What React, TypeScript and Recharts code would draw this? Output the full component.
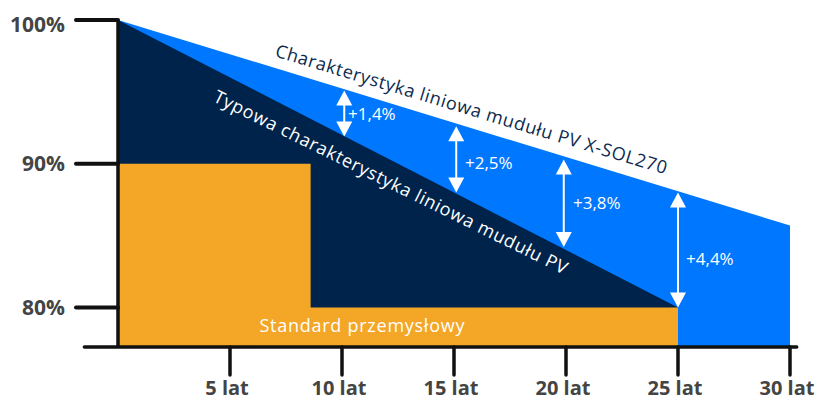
import React from 'react';
import { ComposedChart, Area, XAxis, YAxis, ReferenceLine, ReferenceDot } from 'recharts';

// ---- data ----
const xsolYears = [0, 30];
const xsolValues = [100, 85.7];
const typicalYears = [0, 25];
const typicalValues = [100, 80];
const standardYears = [0, 8.6, 25];
const standardValues = [90, 80, 80];

const gainYears = [10.1, 15.1, 19.9, 25];
const gainTop = [95.1, 92.6, 90.3, 88.0];
const gainBottom = [91.9, 88.0, 84.2, 80.0];
const gainLabels = ['+1,4%', '+2,5%', '+3,8%', '+4,4%'];
const gainLabelYears = [10.27, 15.49, 20.31, 25.36];
const gainLabelLevels = [93.5, 90.1, 87.3, 83.4];

const xTicks = [5, 10, 15, 20, 25, 30];
const xTickLabels = ['5 lat', '10 lat', '15 lat', '20 lat', '25 lat', '30 lat'];
const yTicks = [80, 90, 100];
const yTickLabels = ['80%', '90%', '100%'];

const xsolLabel = 'Charakterystyka liniowa mudułu PV X-SOL270';
const typicalLabel = 'Typowa charakterystyka liniowa mudułu PV';
const standardLabel = 'Standard przemysłowy';

const Y_MIN = 77.25;
const Y_MAX = 100;

// build table
const allYears = Array.from(new Set([...xsolYears, ...typicalYears, ...standardYears])).sort((a, b) => a - b);
const table = allYears.map((x) => {
  const i1 = xsolYears.indexOf(x);
  const i2 = typicalYears.indexOf(x);
  const i3 = standardYears.indexOf(x);
  return {
    x,
    xsol: i1 >= 0 ? xsolValues[i1] : null,
    typical: i2 >= 0 ? typicalValues[i2] : null,
    standard: i3 >= 0 ? standardValues[i3] : null,
  };
});

const FONT = "'Open Sans', sans-serif";
const AXIS = '#111111';
const LABEL = '#444444';

const XTick = (props: any) => {
  const { x, y, payload } = props;
  const idx = xTicks.indexOf(payload.value);
  return (
    <g>
      <line x1={x} y1={y} x2={x} y2={y + 28} stroke={AXIS} strokeWidth={3.5} strokeLinecap="round" />
      <text x={x - 3} y={y + 48} textAnchor="middle" fontFamily={FONT} fontWeight={700} fontSize={20} fill={LABEL}>
        {idx >= 0 ? xTickLabels[idx] : payload.value}
      </text>
    </g>
  );
};

const YTick = (props: any) => {
  const { x, y, payload } = props;
  const idx = yTicks.indexOf(payload.value);
  const dy = payload.value === Y_MAX ? 12 : 7.5;
  return (
    <g>
      <line x1={x - 42} y1={y} x2={x} y2={y} stroke={AXIS} strokeWidth={4} strokeLinecap="round" />
      <text x={x - 53} y={y + dy} textAnchor="end" fontFamily={FONT} fontWeight={700} fontSize={21} fill={LABEL}>
        {idx >= 0 ? yTickLabels[idx] : payload.value}
      </text>
    </g>
  );
};

const DoubleArrow = (props: any) => {
  const { x1, y1, x2, y2 } = props;
  const top = Math.min(y1, y2);
  const bot = Math.max(y1, y2);
  const x = x1;
  const hw = 8;
  const hh = 15;
  return (
    <g>
      <line x1={x} y1={top + hh - 1} x2={x} y2={bot - hh + 1} stroke="#ffffff" strokeWidth={2} />
      <polygon points={`${x},${top} ${x - hw},${top + hh} ${x + hw},${top + hh}`} fill="#ffffff" />
      <polygon points={`${x},${bot} ${x - hw},${bot - hh} ${x + hw},${bot - hh}`} fill="#ffffff" />
    </g>
  );
};

const makeText = (text: string, opts: { angle?: number; color: string; size: number; anchor?: string; length?: number }) =>
  (p: any) => {
    const { cx, cy } = p;
    return (
      <text
        x={cx}
        y={cy}
        transform={opts.angle ? `rotate(${opts.angle} ${cx} ${cy})` : undefined}
        textAnchor={opts.anchor || 'middle'}
        dominantBaseline="central"
        fontFamily={FONT}
        fontSize={opts.size}
        fill={opts.color}
        textLength={opts.length}
        lengthAdjust={opts.length ? 'spacing' : undefined}
      >
        {text}
      </text>
    );
  };

export default function App() {
  return (
    <div style={{ position: 'absolute', left: 0, top: 0, width: 819, height: 401, background: '#ffffff' }}>
      <ComposedChart width={819} height={401} data={table} margin={{ top: 20, right: 29, bottom: 0, left: 58 }}>
        <Area dataKey="xsol" type="linear" fill="#0077FF" fillOpacity={1} stroke="none" connectNulls isAnimationActive={false} dot={false} activeDot={false} />
        <Area dataKey="typical" type="linear" fill="#00234B" fillOpacity={1} stroke="none" connectNulls isAnimationActive={false} dot={false} activeDot={false} />
        <Area dataKey="standard" type="stepAfter" fill="#F4A626" fillOpacity={1} stroke="none" connectNulls isAnimationActive={false} dot={false} activeDot={false} />
        <XAxis
          dataKey="x"
          type="number"
          domain={[0, 30]}
          ticks={xTicks}
          allowDataOverflow
          axisLine={false}
          tickLine={false}
          tickSize={0}
          tickMargin={0}
          height={54}
          tick={<XTick />}
          interval={0}
        />
        <YAxis
          type="number"
          domain={[Y_MIN, Y_MAX]}
          ticks={yTicks}
          allowDataOverflow
          axisLine={{ stroke: AXIS, strokeWidth: 3.5 }}
          tickLine={false}
          tickSize={0}
          tickMargin={0}
          width={60}
          tick={<YTick />}
          interval={0}
        />
        <ReferenceLine
          segment={[{ x: -1.5, y: Y_MIN }, { x: 30.3, y: Y_MIN }]}
          stroke={AXIS}
          strokeWidth={3.5}
          strokeLinecap="round"
          ifOverflow="visible"
        />
        {gainYears.map((gx, i) => (
          <ReferenceLine
            key={`arrow-${i}`}
            segment={[{ x: gx, y: gainTop[i] }, { x: gx, y: gainBottom[i] }]}
            ifOverflow="visible"
            shape={DoubleArrow}
          />
        ))}
        {gainLabels.map((lab, i) => (
          <ReferenceDot
            key={`gl-${i}`}
            x={gainLabelYears[i]}
            y={gainLabelLevels[i]}
            r={0}
            ifOverflow="visible"
            shape={makeText(lab, { color: '#ffffff', size: 17, anchor: 'start' })}
          />
        ))}
        <ReferenceDot x={15.78} y={93.84} r={0} ifOverflow="visible" shape={makeText(xsolLabel, { angle: 16.8, color: '#0D2A4E', size: 18, length: 408 })} />
        <ReferenceDot x={12.19} y={88.76} r={0} ifOverflow="visible" shape={makeText(typicalLabel, { angle: 26.3, color: '#ffffff', size: 18, length: 392 })} />
        <ReferenceDot x={10.89} y={78.78} r={0} ifOverflow="visible" shape={makeText(standardLabel, { color: '#ffffff', size: 18, length: 205 })} />
      </ComposedChart>
    </div>
  );
}
